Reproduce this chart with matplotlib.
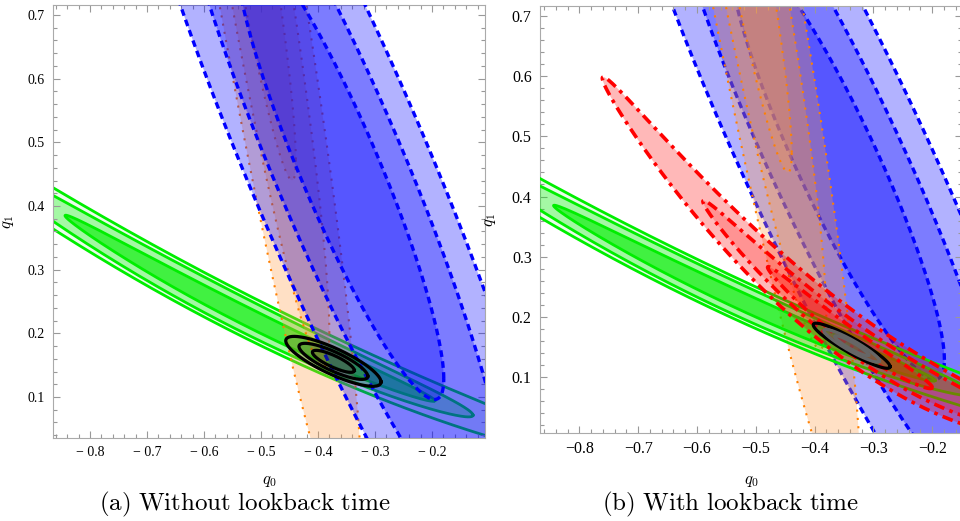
import numpy as np
import matplotlib.pyplot as plt
from matplotlib.ticker import MultipleLocator, FuncFormatter

plt.rcParams['mathtext.fontset'] = 'cm'
plt.rcParams['font.family'] = ['Liberation Serif', 'DejaVu Serif']

# confidence levels (1, 2, 3 sigma for 2 parameters)
levels = np.sqrt([2.30, 6.18, 11.83])

# gaussian-like constraints: center (q0, q1), sigmas, correlation
blue_center = [-0.361, 0.457]
blue_sigma = [0.1198, 0.238]
blue_rho = -0.910

orange_center = [-0.531, 0.900]
orange_sigma = [0.0607, 0.303]
orange_rho = -0.929

black_a_center = [-0.373, 0.156]
black_a_sigma = [0.0243, 0.0114]
black_a_rho = -0.824

black_b_center = [-0.337, 0.152]
black_b_sigma = [0.0190, 0.0109]
black_b_rho = -0.926

# curved (banana) constraints: q0 extent per level, half width, midline poly
green_q0_lo = [-0.844, -1.00, -1.30]
green_q0_hi = [-0.195, -0.128, 0.10]
green_half = [0.0155, 0.028, 0.035]
green_mid = [0.15, -0.448, 0.224]
green_pivot = -0.52

red_q0_lo = [-0.48, -0.59, -0.761]
red_q0_hi = [-0.20, -0.05, 0.0]
red_half = [0.016, 0.029, 0.046]
red_mid = [0.721, -0.872, 0.2556]
red_pivot = -0.45


def ellipse_xy(center, sigma, rho, k, n=400):
    c = rho * sigma[0] * sigma[1]
    chol = np.linalg.cholesky([[sigma[0] ** 2, c], [c, sigma[1] ** 2]])
    t = np.linspace(0, 2 * np.pi, n)
    xy = k * chol @ np.vstack([np.cos(t), np.sin(t)])
    return center[0] + xy[0], center[1] + xy[1]


def banana_xy(lo, hi, half, mid, pivot, n=400):
    t = np.linspace(0, 2 * np.pi, n)
    q0 = (lo + hi) / 2 + (hi - lo) / 2 * np.cos(t)
    q1 = np.polyval(mid, q0 - pivot) + half * np.sin(t)
    return q0, q1


def draw_gauss(ax, center, sigma, rho, face, alpha, edges, ls, lw, z):
    for i in [2, 1, 0]:
        x, y = ellipse_xy(center, sigma, rho, levels[i])
        ax.fill(x, y, color=face, alpha=alpha, lw=0, zorder=z)
        ax.plot(x, y, color=edges[i], ls=ls, lw=lw, zorder=z + 0.1)


def draw_banana(ax, lo, hi, half, mid, pivot, face, alphas, edge, ls, lw, z):
    for i in [2, 1, 0]:
        x, y = banana_xy(lo[i], hi[i], half[i], mid, pivot)
        ax.fill(x, y, color=face, alpha=alphas[i], lw=0, zorder=z)
        ax.plot(x, y, color=edge, ls=ls, lw=lw, zorder=z + 0.1)


def style_axes(ax, xlim, ylim, fs, minus):
    ax.set_xlim(xlim)
    ax.set_ylim(ylim)
    ax.xaxis.set_major_locator(MultipleLocator(0.1))
    ax.xaxis.set_minor_locator(MultipleLocator(0.02))
    ax.yaxis.set_major_locator(MultipleLocator(0.1))
    ax.yaxis.set_minor_locator(MultipleLocator(0.02))
    ax.xaxis.set_major_formatter(FuncFormatter(
        lambda v, p: (minus + f"{abs(v):.1f}") if v < 0 else f"{v:.1f}"))
    ax.yaxis.set_major_formatter(FuncFormatter(lambda v, p: f"{v:.1f}"))
    ax.tick_params(which='both', direction='in', top=True, right=True,
                   color='#999999', labelsize=fs, width=0.8)
    ax.tick_params(which='major', length=5, pad=6)
    ax.tick_params(which='minor', length=3)
    for s in ax.spines.values():
        s.set_color('#aaaaaa')
        s.set_linewidth(0.8)


fig = plt.figure(figsize=(9.6, 5.21), dpi=100)
ax1 = fig.add_axes([0.0552, 0.1593, 0.45, 0.8311])
ax2 = fig.add_axes([0.5625, 0.1689, 0.44, 0.8196])

blue_dash = (0, (2.0, 1.3))
orange_dot = (0, (1, 3))
red_dash = (0, (3, 1.5, 1, 1.5))

# (a) without lookback time
draw_banana(ax1, green_q0_lo, green_q0_hi, green_half, green_mid, green_pivot,
            (0, 0.93, 0), [0.6, 0.3, 0.08], '#00ee00', '-', 2.0, 1)
draw_gauss(ax1, orange_center, orange_sigma, orange_rho, (1.0, 0.6, 0.25), 0.3,
           ['#ff8000'] * 3, orange_dot, 1.5, 2)
draw_gauss(ax1, blue_center, blue_sigma, blue_rho, (0, 0, 1), 0.3,
           ['#0000ff'] * 3, blue_dash, 2.4, 3)
draw_gauss(ax1, black_a_center, black_a_sigma, black_a_rho, (0.1, 0.2, 0.1), 0.15,
           ['black'] * 3, '-', 2.3, 4)
style_axes(ax1, (-0.865, -0.107), (0.0356, 0.7157), 10, '\u2212 ')

# (b) with lookback time
draw_gauss(ax2, blue_center, blue_sigma, blue_rho, (0, 0, 1), 0.3,
           ['#0000ff'] * 3, blue_dash, 2.4, 1)
draw_gauss(ax2, orange_center, orange_sigma, orange_rho, (1.0, 0.6, 0.25), 0.3,
           ['#ff8000'] * 3, orange_dot, 1.5, 2)
draw_banana(ax2, green_q0_lo, green_q0_hi, green_half, green_mid, green_pivot,
            (0, 0.93, 0), [0.6, 0.3, 0.08], '#00ee00', '-', 2.0, 3)
draw_banana(ax2, red_q0_lo, red_q0_hi, red_half, red_mid, red_pivot,
            (1, 0, 0), [0.3, 0.2, 0.28], '#ff0000', red_dash, 2.6, 4)
draw_gauss(ax2, black_b_center, black_b_sigma, black_b_rho, (0.35, 0.35, 0.35), 0.3,
           ['#666666', '#666666', 'black'], '-', 2.3, 5)
style_axes(ax2, (-0.867, -0.1487), (0.007, 0.7166), 11.5, '\u2212')

for ax, xl, yl in [(ax1, -0.081, -0.085), (ax2, -0.094, -0.1)]:
    ax.set_xlabel(r'$q_0$', fontsize=12)
    ax.set_ylabel(r'$q_1$', fontsize=12)
    ax.xaxis.set_label_coords(0.5, xl)
    ax.yaxis.set_label_coords(yl, 0.5)

fig.text(245 / 960, 1 - 504 / 521, r'$\mathrm{(a)\ Without\ lookback\ time}$',
         ha='center', va='center', fontsize=18)
fig.text(730 / 960, 1 - 504 / 521, r'$\mathrm{(b)\ With\ lookback\ time}$',
         ha='center', va='center', fontsize=18)

fig.savefig('out.png', dpi=100)
